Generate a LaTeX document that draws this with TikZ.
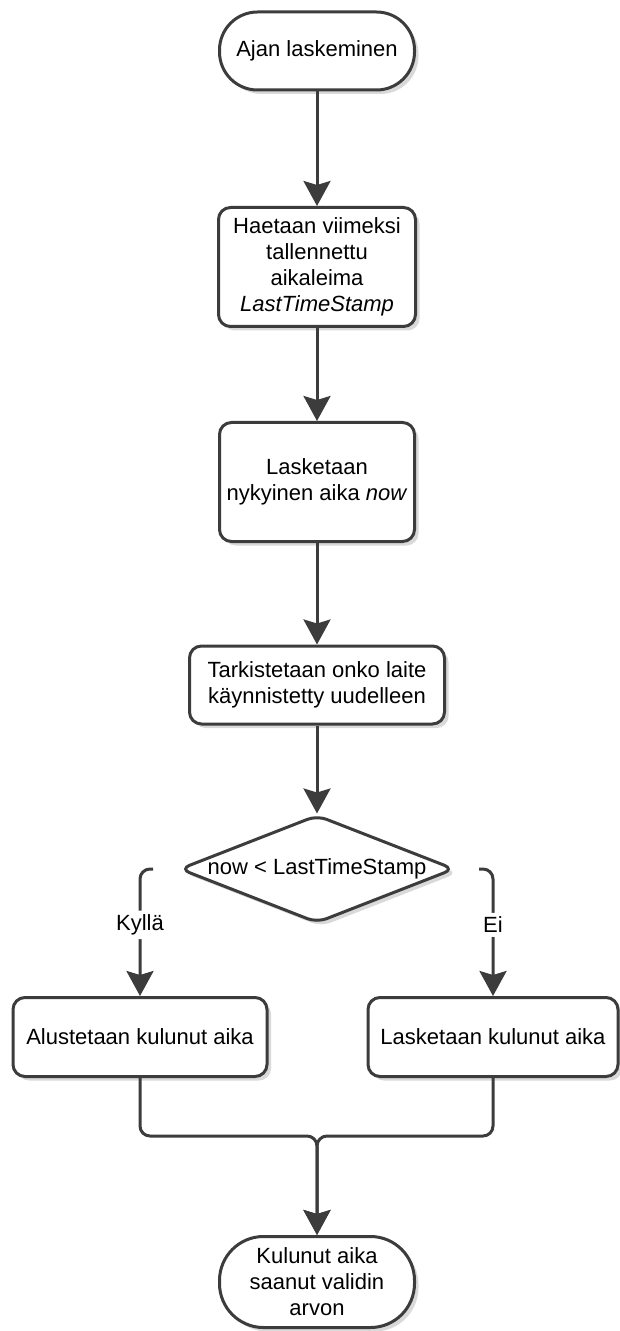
\documentclass[tikz,border=0pt]{standalone}
\usepackage{fontspec}
\setmainfont{Liberation Sans}
\usetikzlibrary{shapes.geometric,arrows.meta,shadows}
\definecolor{linegrey}{HTML}{3C3C3C}

\tikzset{
  box/.style={draw=linegrey, line width=1.5pt, fill=white, rounded corners=6pt,
    align=center, inner sep=0pt, font=\fontsize{11}{13}\selectfont,
    drop shadow={shadow xshift=2pt, shadow yshift=-2pt, fill=black!15, opacity=1}},
  terminal/.style={box, rounded corners=19pt},
  decision/.style={box, diamond, shape aspect=2.55, rounded corners=5pt},
  flow/.style={draw=linegrey, line width=1.5pt, rounded corners=5pt,
    -{Stealth[length=12.5pt, width=13.5pt, inset=2pt]}},
  branch/.style={fill=white, inner sep=2pt, font=\fontsize{11}{13}\selectfont},
}

\begin{document}
\begin{tikzpicture}[x=0.5pt, y=-0.5pt]
\useasboundingbox (0,0) rectangle (620,1331);

% Steps of the flow, top to bottom
\node[terminal, minimum width=97.5pt, minimum height=39pt] (start) at (317,51) {Ajan laskeminen};
\node[box, minimum width=98.5pt, minimum height=59.5pt] (fetch) at (317,267) {Haetaan viimeksi\\tallennettu\\aikaleima\\\textit{LastTimeStamp}};
\node[box, minimum width=97.5pt, minimum height=59.5pt] (now) at (317,482) {Lasketaan\\nykyinen aika \textit{now}};
\node[box, minimum width=127.5pt, minimum height=39pt] (check) at (317,685) {Tarkistetaan onko laite\\käynnistetty uudelleen};
\node[decision, minimum width=137.5pt, minimum height=54pt] (dec) at (317,869) {now < LastTimeStamp};
\node[box, minimum width=127pt, minimum height=39.5pt] (reset) at (140,1037) {Alustetaan kulunut aika};
\node[box, minimum width=125pt, minimum height=39.5pt] (count) at (493,1037) {Lasketaan kulunut aika};
\node[terminal, rounded corners=22pt, minimum width=97.5pt, minimum height=45.5pt] (done) at (317,1282) {Kulunut aika\\saanut validin\\arvon};

% Connectors
\draw[flow] (start) -- (fetch);
\draw[flow] (fetch) -- (now);
\draw[flow] (now) -- (check);
\draw[flow] (check) -- (dec);
\draw[flow] (dec.west) ++(-25,0) -| node[branch, pos=0.72] {Kyllä} (reset.north);
\draw[flow] (dec.east) ++(23,0) -| node[branch, pos=0.72] {Ei} (count.north);
\draw[flow] (reset.south) -- ++(0,58) -| (done.north);
\draw[flow] (count.south) -- ++(0,58) -| (done.north);
\end{tikzpicture}
\end{document}
